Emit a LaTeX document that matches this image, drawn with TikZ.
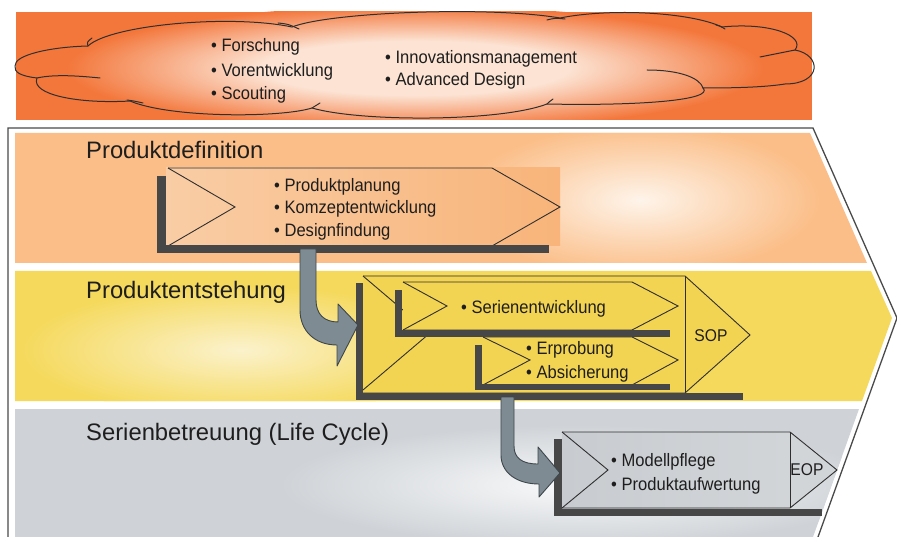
\documentclass[tikz,border=0pt]{standalone}
\usepackage{fontspec}
\setmainfont{Liberation Sans}
\newfontfamily\narrowfont[FakeStretch=0.92]{Liberation Sans}

\definecolor{cloudorange}{HTML}{F3763A}
\definecolor{cloudpale}{HTML}{FCE3D3}
\definecolor{bandorange}{HTML}{FBBE88}
\definecolor{bandorangeglow}{HTML}{FEF4EA}
\definecolor{bandyellow}{HTML}{F5D95C}
\definecolor{bandyellowglow}{HTML}{FBF2CC}
\definecolor{bandgray}{HTML}{CFD3D7}
\definecolor{bandgrayglow}{HTML}{F9FAFB}
\definecolor{boxpeachL}{HTML}{F9CDA5}
\definecolor{boxpeachM}{HTML}{FDF0E4}
\definecolor{boxpeachR}{HTML}{F8B47A}
\definecolor{boxyellow}{HTML}{F3D452}
\definecolor{boxyellowM}{HTML}{F9EBA8}
\definecolor{boxgrayL}{HTML}{C8CCD0}
\definecolor{boxgrayM}{HTML}{EEEFF0}
\definecolor{boxgrayR}{HTML}{D2D5D8}
\definecolor{bracketcol}{HTML}{474747}
\definecolor{linecol}{HTML}{2F2F2F}
\definecolor{framecol}{HTML}{4A4A4A}
\definecolor{arrowfill}{HTML}{7E8B93}
\definecolor{arrowline}{HTML}{3D464B}
\definecolor{textcol}{HTML}{1E1E1E}

\pgfdeclareradialshading{cloudglow}{\pgfpointorigin}{%
  color(0bp)=(cloudpale); color(11bp)=(cloudpale);
  color(25bp)=(cloudorange); color(50bp)=(cloudorange)}

\tikzset{
  bulletlist/.style={font=\narrowfont\fontsize{18}{20}\selectfont, text=textcol,
    anchor=base west, inner sep=0pt},
  milestone/.style={font=\narrowfont\fontsize{17}{19}\selectfont, text=textcol,
    inner sep=0pt},
  bandtitle/.style={font=\fontsize{23.8}{26}\selectfont, text=textcol,
    anchor=base west, inner sep=0pt},
  boxline/.style={draw=linecol, line width=0.9pt, line join=miter},
  bracket/.style={fill=bracketcol},
  bentarrow/.style={fill=arrowfill, draw=arrowline, line width=0.9pt, line join=round},
  cloudline/.style={draw=linecol, line width=1pt, line cap=round},
}

\begin{document}
\begin{tikzpicture}[x=1pt,y=-1pt]
\useasboundingbox (0,0) rectangle (897,537);
\fill[white] (0,0) rectangle (897,537);

% ---------- top band with cloud ----------
\begin{scope}
  \clip (16,12) rectangle (812,120);
  \fill[cloudorange] (16,12) rectangle (812,120);
  \shade[shading=cloudglow] (415,68) ellipse [x radius=350, y radius=62];
\end{scope}

\draw[cloudline] (15,66)
  .. controls (14,55) and (50,47) .. (88,46)
  .. controls (110,25) and (230,14) .. (292,27)
  .. controls (330,12) and (490,6) .. (560,18)
  .. controls (610,8) and (690,12) .. (722,27)
  .. controls (770,22) and (806,36) .. (795,50)
  .. controls (822,55) and (822,84) .. (785,84)
  .. controls (760,88) and (720,88) .. (703,88)
  .. controls (715,100) and (640,106) .. (547,104)
  .. controls (500,122) and (360,122) .. (312,108)
  .. controls (280,118) and (170,118) .. (130,101)
  .. controls (80,104) and (30,95) .. (37,78)
  .. controls (20,76) and (14,72) .. (15,66);
% inner strokes of the cloud lobes
\draw[cloudline] (37,78) .. controls (55,74) and (80,76) .. (100,78);
\draw[cloudline] (88,46) .. controls (87,42) .. (92,38);
\draw[cloudline] (278,23) .. controls (288,24) .. (299,29);
\draw[cloudline] (547,20) .. controls (555,18) .. (565,19);
\draw[cloudline] (716,25) .. controls (720,26) .. (725,29);
\draw[cloudline] (795,50) .. controls (780,53) .. (760,57);
\draw[cloudline] (647,70) .. controls (680,70) and (700,78) .. (703,88);
\draw[cloudline] (547,104) .. controls (549,102) .. (553,99);
\draw[cloudline] (312,108) .. controls (316,106) .. (320,103);
\draw[cloudline] (127,100) .. controls (134,101) .. (143,103);

\node[bulletlist] (fo) at (211,51.5) {• Forschung};
\node[bulletlist] (vo) at (211,76.5) {• Vorentwicklung};
\node[bulletlist] (sc) at (211,99.5) {• Scouting};
\node[bulletlist] (im) at (385,63.5) {• Innovationsmanagement};
\node[bulletlist] (ad) at (385,85.5) {• Advanced Design};

% ---------- big process arrow with three bands ----------
\draw[framecol, line width=1.3pt, line join=miter]
  (8,537) -- (8,128) -- (813,128) -- (897,318) -- (818,537);

\begin{scope}
  \clip (15,133) -- (810,133) -- (867,263) -- (15,263) -- cycle;
  \fill[bandorange] (0,120) rectangle (897,270);
  \shade[inner color=bandorangeglow, outer color=bandorange]
    (640,200) ellipse [x radius=180, y radius=75];
\end{scope}

\begin{scope}
  \clip (15,271) -- (871,271) -- (892,318) -- (862,401) -- (15,401) -- cycle;
  \fill[bandyellow] (0,265) rectangle (897,405);
  \shade[inner color=bandyellowglow, outer color=bandyellow]
    (240,350) ellipse [x radius=220, y radius=65];
\end{scope}

\begin{scope}
  \clip (15,409) -- (859,409) -- (813,537) -- (15,537) -- cycle;
  \fill[bandgray] (0,405) rectangle (897,537);
  \shade[inner color=bandgrayglow, outer color=bandgray]
    (580,485) ellipse [x radius=300, y radius=60];
\end{scope}

\node[bandtitle] (t1) at (86,159) {Produktdefinition};
\node[bandtitle] (t2) at (86,299) {Produktentstehung};
\node[bandtitle] (t3) at (86,440) {Serienbetreuung (Life Cycle)};

% ---------- Produktdefinition box ----------
\shade[left color=boxpeachL, middle color=boxpeachM, right color=boxpeachR]
  (166,168) rectangle (560,246);
\draw[boxline] (168,168) -- (492,168) -- (560,207) -- (492,246) -- (168,246);
\draw[boxline] (168,168) -- (235,207) -- (168,246);
\fill[bracket] (157,176) rectangle (166,253);
\fill[bracket] (157,245) rectangle (549,253);
\coordinate (defout) at (308,253);

\node[bulletlist] (pp) at (274,191.5) {• Produktplanung};
\node[bulletlist] (ke) at (274,213.5) {• Komzeptentwicklung};
\node[bulletlist] (df) at (274,236.5) {• Designfindung};

% ---------- Produktentstehung box ----------
\shade[left color=boxyellow, middle color=boxyellowM, right color=boxyellow]
  (363,276) -- (685,276) -- (685,393) -- (363,393) -- cycle;
\fill[boxyellow] (685,276) -- (750,335) -- (685,393) -- cycle;
\draw[boxline] (363,276) -- (685,276) -- (750,335) -- (685,393) -- (363,393);
\draw[boxline] (685,276) -- (685,393);
\draw[boxline] (363,276) -- (430,333) -- (363,390);

% Serienentwicklung
\shade[left color=boxyellow, middle color=boxyellowM, right color=boxyellow]
  (403,282) -- (632,282) -- (678,306) -- (632,330) -- (403,330) -- cycle;
\draw[boxline] (403,282) -- (632,282) -- (678,306) -- (632,330) -- (403,330);
\draw[boxline] (403,282) -- (447,306) -- (403,330);
\fill[bracket] (395,290) rectangle (402,337);
\fill[bracket] (395,330) rectangle (670,337);

% Erprobung / Absicherung
\shade[left color=boxyellow, middle color=boxyellowM, right color=boxyellow]
  (483,337) -- (632,337) -- (678,360) -- (632,385) -- (483,385) -- cycle;
\draw[boxline] (483,337) -- (632,337) -- (678,360) -- (632,385) -- (483,385);
\draw[boxline] (483,337) -- (530,360) -- (483,385);
\fill[bracket] (475,345) rectangle (482,390);
\fill[bracket] (475,384) rectangle (670,390);

% outer bracket of Produktentstehung
\fill[bracket] (356,283) rectangle (363,400);
\fill[bracket] (356,393) rectangle (743,400);
\coordinate (entin) at (358,325);
\coordinate (entout) at (507,400);

\node[bulletlist] (se) at (461,313.5) {• Serienentwicklung};
\node[bulletlist] (er) at (526,354.5) {• Erprobung};
\node[bulletlist] (ab) at (526,378.5) {• Absicherung};
\node[milestone] (sop) at (711,336) {SOP};

% ---------- Serienbetreuung box ----------
\shade[left color=boxgrayL, middle color=boxgrayM, right color=boxgrayR]
  (562,432) -- (790,432) -- (790,508) -- (562,508) -- cycle;
\fill[boxgrayR] (790,432) -- (837,470) -- (790,508) -- cycle;
\draw[boxline] (562,432) -- (790,432) -- (837,470) -- (790,508) -- (562,508);
\draw[boxline] (790,432) -- (790,508);
\draw[boxline] (562,432) -- (608,470) -- (562,508);
\fill[bracket] (554,439) rectangle (562,516);
\fill[bracket] (554,509) rectangle (822,516);
\coordinate (serin) at (560,473);

\node[bulletlist] (mp) at (611,466.5) {• Modellpflege};
\node[bulletlist] (pa) at (611,490.5) {• Produktaufwertung};
\node[milestone] (eop) at (807,470) {EOP};

% ---------- bent hand-over arrows ----------
\draw[bentarrow] ([xshift=-8pt,yshift=4pt]defout) -- ++(16,0) -- (316,300)
  .. controls (316,314) and (324,322) .. (338,322) -- (338,304) -- (entin)
  -- (337,366) -- (337,345) .. controls (314,345) and (300,330) .. (300,310) -- cycle;

\draw[bentarrow] ([xshift=-6pt,yshift=3pt]entout) -- ++(13,0) -- (514,446)
  .. controls (514,458) and (522,464) .. (538,464) -- (538,447) -- (serin)
  -- (539,497) -- (539,484) .. controls (516,484) and (501,472) .. (501,455) -- cycle;

\end{tikzpicture}
\end{document}
